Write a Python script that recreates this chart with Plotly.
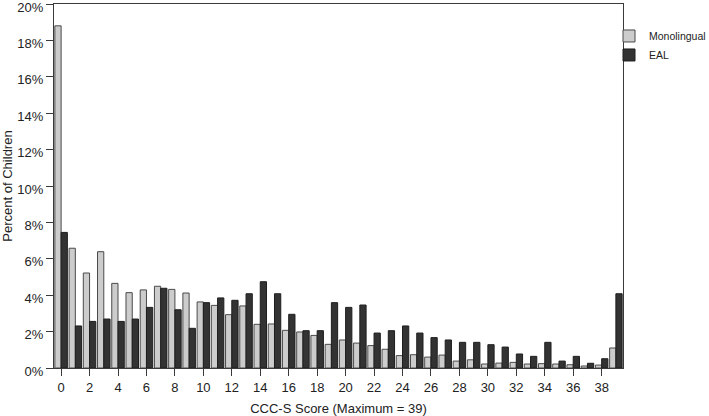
import plotly.graph_objects as go

scores = list(range(40))
monolingual = [18.8, 6.58, 5.22, 6.39, 4.65, 4.14, 4.29, 4.49, 4.32, 4.12,
               3.63, 3.44, 2.93, 3.41, 2.40, 2.42, 2.07, 1.98, 1.79, 1.30,
               1.54, 1.37, 1.23, 1.03, 0.68, 0.73, 0.60, 0.71, 0.38, 0.45,
               0.22, 0.27, 0.31, 0.22, 0.24, 0.22, 0.18, 0.11, 0.16, 1.10]
eal = [7.45, 2.31, 2.56, 2.69, 2.56, 2.69, 3.33, 4.38, 3.20, 2.18,
       3.59, 3.85, 3.72, 4.08, 4.74, 4.08, 2.95, 2.05, 2.05, 3.59,
       3.33, 3.46, 1.92, 2.05, 2.31, 1.92, 1.67, 1.54, 1.41, 1.41,
       1.28, 1.15, 0.77, 0.64, 1.41, 0.38, 0.64, 0.26, 0.51, 4.08]
x_ticks = list(range(0, 40, 2))
y_ticks = list(range(0, 21, 2))
y_tick_labels = [f"{v}%" for v in y_ticks]

FONT = "Liberation Sans, Arial, sans-serif"
LINE = "#3a3a3a"

fig = go.Figure()
fig.add_trace(go.Bar(x=scores, y=monolingual, name="Monolingual",
                     marker=dict(color="#cccccc", line=dict(color="#4a4a4a", width=1))))
fig.add_trace(go.Bar(x=scores, y=eal, name="EAL",
                     marker=dict(color="#333333", line=dict(color="#1e1e1e", width=1))))

fig.update_layout(
    width=709, height=416,
    margin=dict(l=54, r=86, t=4, b=48, autoexpand=False),
    paper_bgcolor="white", plot_bgcolor="white",
    barmode="group", bargap=0.12, bargroupgap=0,
    font=dict(family=FONT, size=13, color="#222222"),
    legend=dict(x=1.0 - 14 / 569, xanchor="left", y=0.952, yanchor="top",
                font=dict(size=10.5, family=FONT, color="#222222"),
                bgcolor="rgba(0,0,0,0)", borderwidth=0,
                tracegroupgap=0, itemwidth=30),
    xaxis=dict(range=[-0.5, 39.5], tickvals=x_ticks, ticktext=[str(v) for v in x_ticks],
               ticks="outside", ticklen=7, tickcolor=LINE, tickwidth=1,
               showline=True, linecolor=LINE, linewidth=1, mirror=True,
               showgrid=False, zeroline=False,
               title=dict(text="CCC-S Score (Maximum = 39)", standoff=10,
                          font=dict(size=13, family=FONT))),
    yaxis=dict(range=[0, 20], tickvals=y_ticks, ticktext=y_tick_labels,
               ticks="outside", ticklen=7, tickcolor=LINE, tickwidth=1,
               ticklabeloverflow="allow", ticklabelshift=3,
               showline=True, linecolor=LINE, linewidth=1, mirror=True,
               showgrid=False, zeroline=False,
               title=dict(text="Percent of Children", standoff=2,
                          font=dict(size=13, family=FONT))),
)

fig.write_html("out.html", config={"displayModeBar": False},
               post_script="document.body.style.margin='0';document.body.style.padding='0';")
